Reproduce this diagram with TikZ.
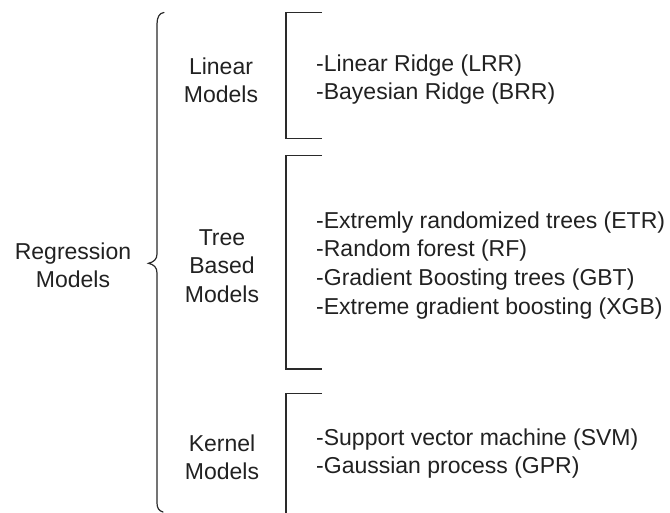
\documentclass[tikz,border=0pt]{standalone}
\usepackage{fontspec}
\setmainfont{Liberation Sans}
\definecolor{txt}{HTML}{212121}
\definecolor{ln}{HTML}{2A2A2A}
\begin{document}
\begin{tikzpicture}[x=1pt,y=-1pt,
  lbl/.style={font=\fontsize{23}{28.7}\selectfont, align=center, anchor=base, inner sep=0pt, text=txt},
  lst/.style={font=\fontsize{23}{28.7}\selectfont, align=left, anchor=base west, inner sep=0pt, text=txt},
  brk/.style={draw=ln, line width=1.2pt},
  brace/.style={draw=ln, line width=1.2pt, line cap=round}]
\useasboundingbox (0,0) rectangle (670,512);

% labels (anchor = baseline of last line)
\node[lbl] (reg) at (73,287.7) {Regression\\Models};
\node[lbl] (lin) at (221,102.7) {Linear\\Models};
\node[lbl] (tree) at (222,302.4) {Tree\\Based\\Models};
\node[lbl] (ker) at (222,479.7) {Kernel\\Models};

% lists
\node[lst] (linlist) at (316,99.7) {-Linear Ridge (LRR)\\-Bayesian Ridge (BRR)};
\node[lst] (treelist) at (316,314.1) {-Extremly randomized trees (ETR)\\-Random forest (RF)\\-Gradient Boosting trees (GBT)\\-Extreme gradient boosting (XGB)};
\node[lst] (kerlist) at (316,473.7) {-Support vector machine (SVM)\\-Gaussian process (GPR)};

% brace
\draw[brace] (164,12.5) .. controls (159.5,13) and (157,17) .. (157,24)
  -- (157,254) .. controls (157,259) and (154,262) .. (148.5,263.3)
  .. controls (154,264.5) and (157,267.5) .. (157,273)
  -- (157,503) .. controls (157,508) and (159,511) .. (163,512);

% brackets
\draw[brk] (322,12.3) -- (286,12.3) -- (286,138.7) -- (322,138.7);
\draw[brk] (322,155.7) -- (286,155.7) -- (286,369) -- (322,369);
\draw[brk] (322,393.7) -- (286,393.7) -- (286,513);
\end{tikzpicture}
\end{document}
